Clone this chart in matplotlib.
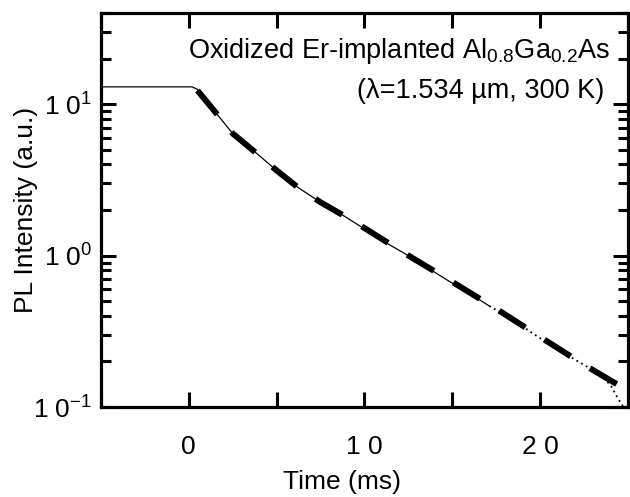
import numpy as np
import matplotlib
matplotlib.use("Agg")
import matplotlib.pyplot as plt
from matplotlib.ticker import MultipleLocator, FixedLocator, FuncFormatter, LogLocator, NullFormatter

plt.rcParams['font.family'] = ['Liberation Sans', 'DejaVu Sans']
plt.rcParams['mathtext.fontset'] = 'custom'
plt.rcParams['mathtext.rm'] = 'Liberation Sans'
plt.rcParams['mathtext.it'] = 'Liberation Sans'

data_t = [-5.0, 0.2, 0.5, 1.0, 1.5, 2.5, 3.8, 5.0, 6.25, 7.5, 8.7, 10.0, 11.2,
          12.3, 13.45, 14.7, 15.9, 17.1, 18.4, 19.6, 20.8, 22.0, 23.3, 24.0,
          24.4, 24.8]
data_I = [13.0, 13.0, 12.5, 10.6, 8.9, 6.4, 4.8, 3.65, 2.8, 2.25, 1.87, 1.5,
          1.22, 1.03, 0.85, 0.69, 0.57, 0.465, 0.38, 0.305, 0.248, 0.205,
          0.167, 0.14, 0.115, 0.097]

# fitted decay (thick dashed)
fit_t = [0.5, 1.5, 2.5, 3.8, 5.0, 6.25, 7.5, 8.7, 10.0, 12.5, 15.0, 17.5,
         20.0, 22.5, 25.0]
fit_I = [12.3, 8.9, 6.4, 4.8, 3.65, 2.8, 2.25, 1.87, 1.52, 1.0, 0.67, 0.445,
         0.29, 0.19, 0.128]

x_labels = {0: "0", 10: "1 0", 20: "2 0"}
y_labels = {0.1: r"$\mathregular{1\ 0^{-1}}$", 1.0: r"$\mathregular{1\ 0^{0}}$",
            10.0: r"$\mathregular{1\ 0^{1}}$"}

fig = plt.figure(figsize=(6.3, 4.97), dpi=100)
ax = fig.add_axes([0.160, 0.181, 0.837, 0.793])

# data: solid where dense, dotted at the noisy tail
n_solid = 17
ax.plot(data_t[:n_solid + 1], data_I[:n_solid + 1], color='k', lw=0.9)
ax.plot(data_t[n_solid:], data_I[n_solid:], color='k', lw=1.3, ls=(0, (1, 2)))
ax.plot(fit_t, fit_I, color='k', lw=4.3, dashes=(5.2, 3.8))

ax.set_yscale('log')
ax.set_xlim(-5, 25)
ax.set_ylim(0.1, 40)

ax.xaxis.set_major_locator(MultipleLocator(5))
ax.xaxis.set_major_formatter(FuncFormatter(lambda v, p: x_labels.get(int(round(v)), "") if abs(v - round(v)) < 1e-6 else ""))
ax.yaxis.set_major_locator(FixedLocator([0.1, 1.0, 10.0]))
ax.yaxis.set_major_formatter(FuncFormatter(lambda v, p: y_labels.get(round(v, 3), "")))
ax.yaxis.set_minor_locator(LogLocator(base=10, subs=np.arange(2, 10)))
ax.yaxis.set_minor_formatter(NullFormatter())

for s in ax.spines.values():
    s.set_linewidth(2.3)
ax.tick_params(which='major', direction='in', length=11, width=2.2,
               top=True, right=True, labelsize=19)
ax.tick_params(axis='x', which='major', pad=20)
ax.tick_params(axis='y', which='major', pad=6)
ax.tick_params(which='minor', direction='in', length=7, width=2.2,
               top=True, right=True)

ax.set_xlabel("Time (ms)", fontsize=19)
ax.xaxis.set_label_coords(0.457, -0.16)
ax.set_ylabel("PL Intensity (a.u.)", fontsize=19)
ax.yaxis.set_label_coords(-0.12, 0.5)

ax.text(0.966, 0.885, r"Oxidized Er-implanted Al$\mathregular{_{0.8}}$Ga$\mathregular{_{0.2}}$As",
        transform=ax.transAxes, ha='right', va='baseline', fontsize=19.5)
ax.text(0.955, 0.785, "(λ=1.534 µm, 300 K)",
        transform=ax.transAxes, ha='right', va='baseline', fontsize=19.5)

fig.savefig("out.png", dpi=100)
